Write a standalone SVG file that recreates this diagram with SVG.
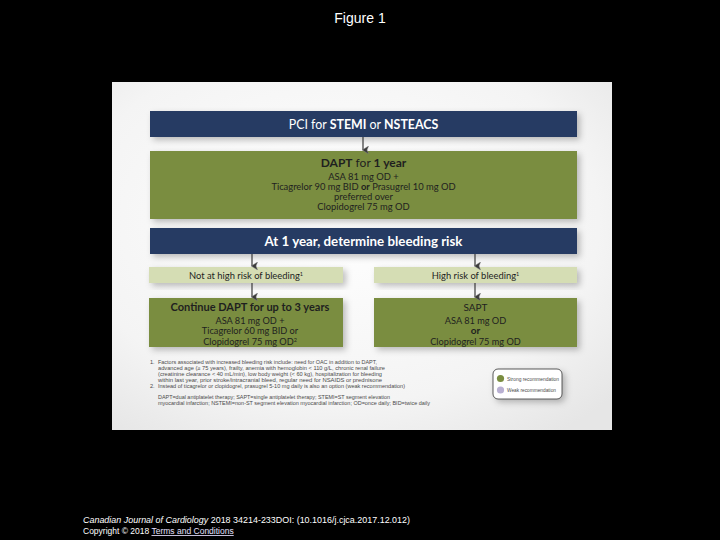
<svg xmlns="http://www.w3.org/2000/svg" width="720" height="540" viewBox="0 0 720 540">
<defs>
<radialGradient id="bg" cx="0.45" cy="0.4" r="0.75">
<stop offset="0" stop-color="#ffffff"/>
<stop offset="0.7" stop-color="#f4f4f4"/>
<stop offset="1" stop-color="#e6e6e6"/>
</radialGradient>
<filter id="sh" x="-10%" y="-30%" width="125%" height="170%">
<feDropShadow dx="3" dy="3" stdDeviation="3" flood-color="#000" flood-opacity="0.25"/>
</filter>
<marker id="ah" viewBox="0 0 10 10" refX="5" refY="9" markerWidth="8" markerHeight="8" orient="auto-start-reverse" markerUnits="userSpaceOnUse">
<path d="M0,2 L5,4 L10,2 L5,10 Z" fill="#3a3a3a" stroke="#8a8a8a" stroke-width="0.6"/>
</marker>
<style>
.navy{fill:#253a63;filter:url(#sh)}
.green{fill:#7a8d40;filter:url(#sh)}
.light{fill:#d5ddb4;filter:url(#sh)}
.t{font-family:Lato,"Open Sans","DejaVu Sans",sans-serif;text-anchor:middle}
.w{fill:#ffffff}
.d{fill:#1f1f1f}
.b{font-weight:bold}
.fn{font-family:"Liberation Sans",Arial,sans-serif;font-size:5.6px;fill:#4a4a4a}
.conn line{stroke:#3a3a3a;stroke-width:1.2;marker-end:url(#ah)}
</style>
</defs>
<rect x="0" y="0" width="720" height="540" fill="#000000"/>
<text x="360" y="23" font-family="Liberation Sans,Arial,sans-serif" font-size="14" fill="#ffffff" text-anchor="middle">Figure 1</text>

<rect x="112" y="82" width="500" height="348" fill="url(#bg)"/>

<g id="n-pci">
<rect class="navy" x="150" y="111" width="427" height="26"/>
<text class="t w" x="363.5" y="129" font-size="12.4">PCI for <tspan class="b">STEMI</tspan> or <tspan class="b">NSTEACS</tspan></text>
</g>

<g id="n-dapt">
<rect class="green" x="150" y="151" width="427" height="68"/>
<text class="t d" x="363.5" y="167" font-size="12"><tspan class="b">DAPT</tspan> for <tspan class="b">1 year</tspan></text>
<text class="t d" x="363.5" y="180" font-size="9.4">ASA 81 mg OD +</text>
<text class="t d" x="363.5" y="190" font-size="9.4">Ticagrelor 90 mg BID <tspan class="b">or</tspan> Prasugrel 10 mg OD</text>
<text class="t d" x="363.5" y="199.5" font-size="9.4">preferred over</text>
<text class="t d" x="363.5" y="209.5" font-size="9.4">Clopidogrel 75 mg OD</text>
</g>

<g id="n-risk">
<rect class="navy" x="150" y="228" width="427" height="26"/>
<text class="t w b" x="363.5" y="245.5" font-size="13.3">At 1 year, determine bleeding risk</text>
</g>

<g id="n-low">
<rect class="light" x="149" y="267" width="194" height="16"/>
<text class="t d" x="246" y="278.5" font-size="9.4">Not at high risk of bleeding<tspan font-size="5.5" dy="-3">1</tspan></text>
</g>

<g id="n-high">
<rect class="light" x="374" y="267" width="203" height="16"/>
<text class="t d" x="475.5" y="278.5" font-size="9.4">High risk of bleeding<tspan font-size="5.5" dy="-3">1</tspan></text>
</g>

<g id="n-continue">
<rect class="green" x="149" y="298" width="194" height="49"/>
<text class="t d b" x="250" y="311" font-size="11">Continue DAPT for up to 3 years</text>
<text class="t d" x="250" y="323.5" font-size="9.2">ASA 81 mg OD +</text>
<text class="t d" x="250" y="334" font-size="9.2">Ticagrelor 60 mg BID or</text>
<text class="t d" x="250" y="344.5" font-size="9.2">Clopidogrel 75 mg OD<tspan font-size="5.5" dy="-3">2</tspan></text>
</g>

<g id="n-sapt">
<rect class="green" x="374" y="298" width="203" height="49"/>
<text class="t d" x="475.5" y="311" font-size="10">SAPT</text>
<text class="t d" x="475.5" y="323.5" font-size="9.2">ASA 81 mg OD</text>
<text class="t d b" x="475.5" y="334" font-size="10">or</text>
<text class="t d" x="475.5" y="344.5" font-size="9.2">Clopidogrel 75 mg OD</text>
</g>

<g id="connectors" class="conn">
<line x1="363" y1="137" x2="363" y2="150"/>
<line x1="252" y1="254" x2="252" y2="266"/>
<line x1="475" y1="254" x2="475" y2="266"/>
<line x1="252" y1="283" x2="252" y2="297"/>
<line x1="475" y1="283" x2="475" y2="297"/>
</g>

<g id="footnotes">
<text class="fn" x="150" y="364">1.</text>
<text class="fn" x="158" y="364" textLength="219" lengthAdjust="spacingAndGlyphs">Factors associated with increased bleeding risk include: need for OAC in addition to DAPT,</text>
<text class="fn" x="158" y="370" textLength="227" lengthAdjust="spacingAndGlyphs">advanced age (≥ 75 years), frailty, anemia with hemoglobin &lt; 110 g/L, chronic renal failure</text>
<text class="fn" x="158" y="376" textLength="224" lengthAdjust="spacingAndGlyphs">(creatinine clearance &lt; 40 mL/min), low body weight (&lt; 60 kg), hospitalization for bleeding</text>
<text class="fn" x="158" y="382" textLength="224" lengthAdjust="spacingAndGlyphs">within last year, prior stroke/intracranial bleed, regular need for NSAIDS or prednisone</text>
<text class="fn" x="150" y="388">2.</text>
<text class="fn" x="158" y="388" textLength="247" lengthAdjust="spacingAndGlyphs">Instead of ticagrelor or clopidogrel, prasugrel 5-10 mg daily is also an option (weak recommendation)</text>
<text class="fn" x="158" y="399" textLength="232" lengthAdjust="spacingAndGlyphs">DAPT=dual antiplatelet therapy; SAPT=single antiplatelet therapy; STEMI=ST segment elevation</text>
<text class="fn" x="158" y="405" textLength="272" lengthAdjust="spacingAndGlyphs">myocardial infarction; NSTEMI=non-ST segment elevation myocardial infarction; OD=once daily; BID=twice daily</text>
</g>

<g id="legend">
<rect x="493" y="369" width="69" height="30" rx="5" ry="5" fill="#ffffff" stroke="#333333" stroke-width="0.8" filter="url(#sh)"/>
<circle cx="500.5" cy="378.5" r="3.6" fill="#7a8d40"/>
<circle cx="500.5" cy="390" r="3.6" fill="#b9b0d2"/>
<text class="fn" x="507" y="380.5" textLength="52" lengthAdjust="spacingAndGlyphs">Strong recommendation</text>
<text class="fn" x="507" y="392" textLength="49" lengthAdjust="spacingAndGlyphs">Weak recommendation</text>
</g>

<text x="83" y="523" font-family="Liberation Sans,Arial,sans-serif" font-size="8.5" fill="#ffffff" textLength="327" lengthAdjust="spacingAndGlyphs"><tspan font-style="italic">Canadian Journal of Cardiology</tspan> 2018 34214-233DOI: (10.1016/j.cjca.2017.12.012)</text>
<text x="83" y="534" font-family="Liberation Sans,Arial,sans-serif" font-size="8.5" fill="#ffffff">Copyright © 2018 <tspan fill="#e6e0ff" text-decoration="underline">Terms and Conditions</tspan></text>
</svg>
